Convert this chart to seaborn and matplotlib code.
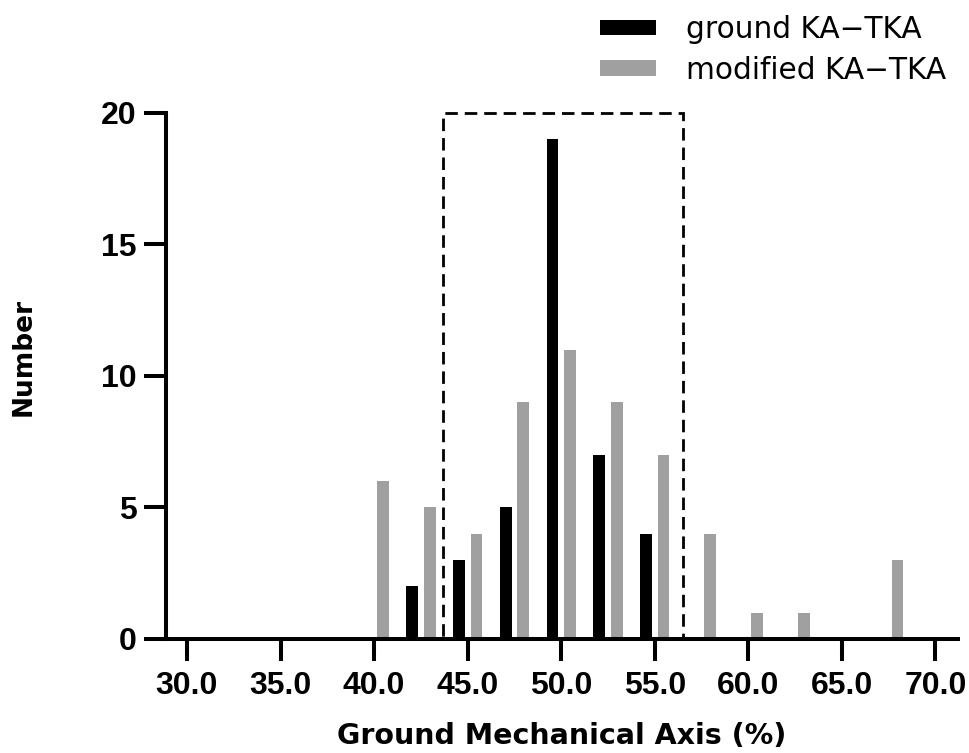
import numpy as np
import pandas as pd
import matplotlib
matplotlib.use("Agg")
import matplotlib.pyplot as plt
import seaborn as sns
from matplotlib.patches import Rectangle

# Data: bin centres (%) and counts per group
bin_centers = [40.0, 42.5, 45.0, 47.5, 50.0, 52.5, 55.0, 57.5, 60.0, 62.5, 65.0, 67.5]
ground_counts = [0, 2, 3, 5, 19, 7, 4, 0, 0, 0, 0, 0]
modified_counts = [6, 5, 4, 9, 11, 9, 7, 4, 1, 1, 0, 3]
groups = ["ground KA\u2212TKA", "modified KA\u2212TKA"]
x_ticks = [30, 35, 40, 45, 50, 55, 60, 65, 70]
y_ticks = [0, 5, 10, 15, 20]
box_range = (43.7, 56.5)   # dashed rectangle (x range)

df = pd.DataFrame({
    "axis": bin_centers * 2,
    "count": ground_counts + modified_counts,
    "group": [groups[0]] * len(bin_centers) + [groups[1]] * len(bin_centers),
})

sns.set_style("ticks")
plt.rcParams.update({"text.color": "black", "axes.labelcolor": "black",
                     "xtick.color": "black", "ytick.color": "black",
                     "axes.edgecolor": "black"})
label_font = ["DejaVu Sans"]

fig = plt.figure(figsize=(9.69, 7.53), dpi=100)
ax = fig.add_axes([0.1713, 0.1514, 0.8173, 0.6986])

sns.barplot(data=df, x="axis", y="count", hue="group", native_scale=True,
            palette=["#000000", "#a0a0a0"], width=0.75, gap=0.33,
            linewidth=0, errorbar=None, ax=ax)

ax.set_xlim(28.88, 71.2)
ax.set_ylim(0, 20)
ax.set_xticks(x_ticks)
ax.set_xticklabels([f"{t:.1f}" for t in x_ticks])
ax.set_yticks(y_ticks)

for side in ["top", "right"]:
    ax.spines[side].set_visible(False)
for side in ["left", "bottom"]:
    ax.spines[side].set_linewidth(2.9)
ax.tick_params(axis="both", length=16, width=2.9, labelsize=23)
ax.tick_params(axis="x", pad=7)
ax.tick_params(axis="y", pad=5)
for lab in ax.get_xticklabels() + ax.get_yticklabels():
    lab.set_fontfamily("Liberation Sans")
    lab.set_fontweight("bold")

ax.set_xlabel("Ground Mechanical Axis (%)", fontsize=20.5, fontweight="bold",
              family=label_font, labelpad=15)
ax.set_ylabel("Number", fontsize=19, fontweight="bold", family=label_font)
ax.yaxis.set_label_coords(-0.163, 0.536)

# dashed box marking the target range
rect = Rectangle((box_range[0], 0), box_range[1] - box_range[0], 20,
                 fill=False, edgecolor="black", linewidth=2,
                 linestyle=(0, (4.5, 2.5)), clip_on=False, zorder=5)
ax.add_patch(rect)

leg = ax.legend(loc="upper right", bbox_to_anchor=(1.0, 1.208), frameon=False,
                prop={"family": label_font, "size": 21.3},
                handlelength=1.9, handleheight=0.42, handletextpad=1.0,
                labelspacing=0.38, borderaxespad=0)

fig.savefig("out.png", dpi=100)
